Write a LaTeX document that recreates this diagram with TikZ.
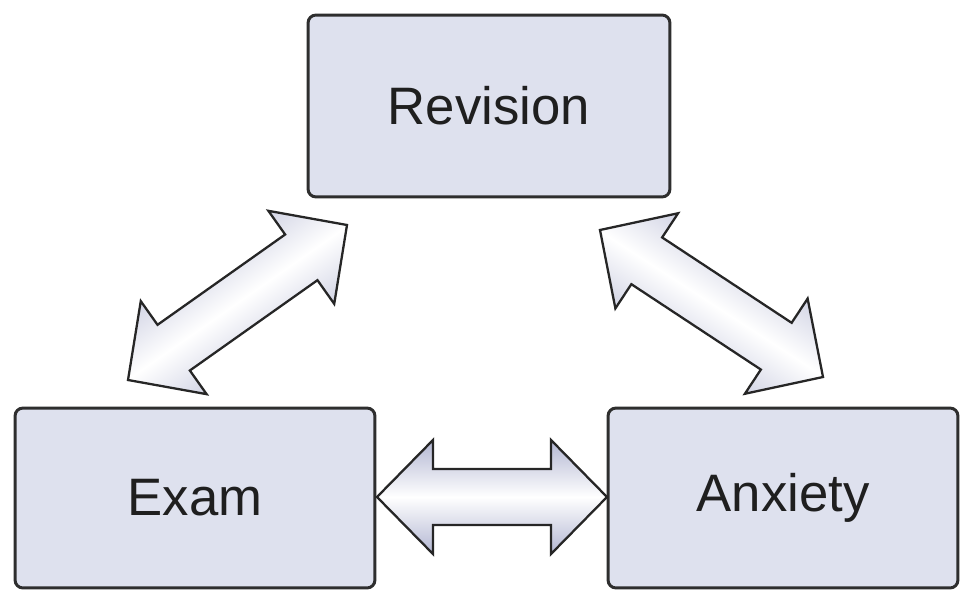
\documentclass[tikz,border=0pt]{standalone}
\usepackage{fontspec}
\setmainfont{Liberation Sans}
\usetikzlibrary{calc,positioning}

\definecolor{boxfill}{HTML}{DEE1EE}
\definecolor{boxline}{HTML}{2E2E2E}
\definecolor{arredge}{HTML}{B2B6D2}

% fat double arrow between two named coordinates, #3 = direction angle
\newcommand{\fatarrow}[3]{%
  \coordinate (#1h) at ($(#1)!1.12cm!(#2)$);
  \coordinate (#2h) at ($(#2)!1.12cm!(#1)$);
  \path[fatarr,shading angle=#3] (#1)
    -- ($(#1h)!1.14cm!90:(#2)$) -- ($(#1h)!0.56cm!90:(#2)$)
    -- ($(#2h)!0.56cm!90:(#2)$) -- ($(#2h)!1.14cm!90:(#2)$)
    -- (#2)
    -- ($(#2h)!1.14cm!-90:(#2)$) -- ($(#2h)!0.56cm!-90:(#2)$)
    -- ($(#1h)!0.56cm!-90:(#2)$) -- ($(#1h)!1.14cm!-90:(#2)$)
    -- cycle;
}

\begin{document}
\begin{tikzpicture}[x=0.02cm,y=0.02cm,
  box/.style={draw=boxline,line width=1.7pt,fill=boxfill,rounded corners=0.16cm,
    font=\fontsize{30}{36}\selectfont,text=black!88},
  fatarr/.style={draw=black!85,line width=1.3pt,line join=miter,
    top color=arredge,bottom color=arredge,middle color=white}]

\useasboundingbox (0,0) rectangle (960,589);

\node[box,minimum width=7.24cm,minimum height=3.64cm] (revision) at (489,483) {Revision};
\node[box,minimum width=7.2cm,minimum height=3.6cm] (exam) at (195,91) {Exam};
\node[box,minimum width=7.0cm,minimum height=3.6cm] (anxiety) at (783,91) {Anxiety};

\coordinate (exR) at (377,92);
\coordinate (anL) at (607,92);
\coordinate (exU) at (128,209);
\coordinate (reL) at (347,364);
\coordinate (reR) at (600,359);
\coordinate (anU) at (823,212);

\fatarrow{exR}{anL}{0}
\fatarrow{exU}{reL}{35}
\fatarrow{reR}{anU}{-33}

\end{tikzpicture}
\end{document}
